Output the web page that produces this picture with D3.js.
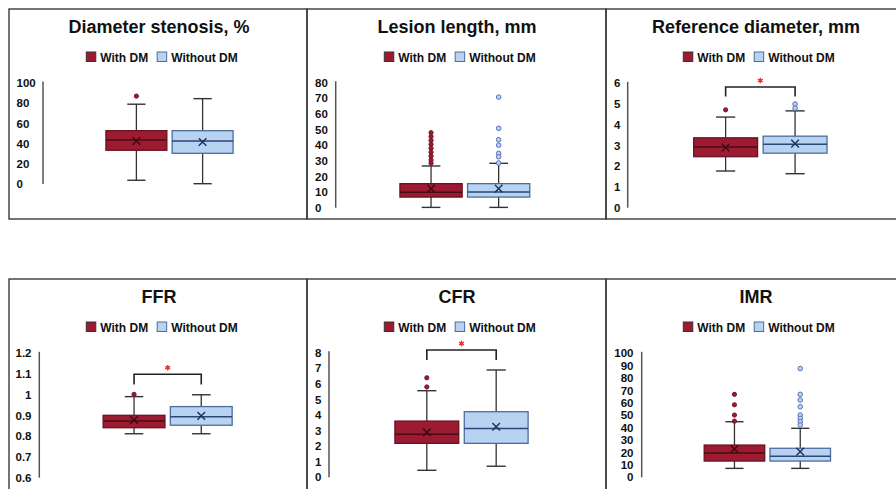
<!DOCTYPE html>
<html>
<head>
<meta charset="utf-8">
<script src="https://cdn.jsdelivr.net/npm/d3@7"></script>
<style>
  body { margin: 0; background: #fff; }
  svg { display: block; font-family: Arial, "Liberation Sans", sans-serif; }
</style>
</head>
<body>
<script>
// chart values
var titles = ["Diameter stenosis, %", "Lesion length, mm", "Reference diameter, mm", "FFR", "CFR", "IMR"];
var groups = ["With DM", "Without DM"];
var yDomains = [[0, 100], [0, 80], [0, 6], [0.6, 1.2], [0, 8], [0, 100]];
var yTicks = [
  [0, 20, 40, 60, 80, 100],
  [0, 10, 20, 30, 40, 50, 60, 70, 80],
  [0, 1, 2, 3, 4, 5, 6],
  [0.6, 0.7, 0.8, 0.9, 1, 1.1, 1.2],
  [0, 1, 2, 3, 4, 5, 6, 7, 8],
  [0, 10, 20, 30, 40, 50, 60, 70, 80, 90, 100]
];

// With DM
var withMin  = [3.7, 0.2, 1.77, 0.812, 0.45, 7.2];
var withQ1   = [33.4, 6.8, 2.46, 0.841, 2.18, 13.1];
var withMed  = [43.6, 9.9, 2.93, 0.873, 2.76, 19.6];
var withQ3   = [52.8, 15.4, 3.37, 0.901, 3.61, 26];
var withMax  = [79, 26.7, 4.37, 0.991, 5.56, 44.8];
var withMean = [42.6, 12.2, 2.9, 0.878, 2.89, 22.8];
var withOut  = [[87], [48, 45.5, 43, 40.5, 38, 35.5, 33, 30.5, 28.5], [4.72], [1.002], [6.39, 5.8], [66.9, 58.5, 50.2, 45.3]];

// Without DM
var woMin  = [0.3, 0.2, 1.64, 0.812, 0.71, 7.2];
var woQ1   = [30.4, 6.8, 2.63, 0.853, 2.18, 13.1];
var woMed  = [42.6, 10, 3.06, 0.894, 3.14, 16.9];
var woQ3   = [52.8, 15.4, 3.45, 0.943, 4.21, 23.4];
var woMax  = [84.5, 28.4, 4.67, 1.0, 6.89, 39.5];
var woMean = [41.6, 12.2, 3.09, 0.898, 3.25, 20.7];
var woOut  = [[], [70.8, 50.8, 43.5, 40, 34.8, 32.6, 28.6], [5.0, 4.8], [], [], [87.7, 66.9, 62.3, 56.9, 50.2, 47.5, 44.8, 42.2]];

// significance brackets (data units), null = none
var sigTop = [null, null, 5.82, 1.099, 8.17, null];
var sigLeg = [null, null, 5.36, 1.05, 7.53, null];

var W = 896, H = 489;
var colX = [9, 307, 606], rowY = [9, 279];
var panelW = [298, 299, 300], panelH = [210, 215];
// per-panel plot geometry (relative to panel corner)
var layout = [
  { axisX: 34, top: 74, bottom: 175, labelX: 7.5, anchor: "start" },
  { axisX: 28.7, top: 73.7, bottom: 198.7, labelX: 8, anchor: "start" },
  { axisX: 21.7, top: 74.3, bottom: 198.7, labelX: 8, anchor: "start" },
  { axisX: 30.3, top: 74.3, bottom: 198.7, labelX: 22.5, anchor: "end" },
  { axisX: 22, top: 73.7, bottom: 198.3, labelX: 8, anchor: "start" },
  { axisX: 35.7, top: 74.3, bottom: 198.3, labelX: 27.5, anchor: "end" }
];
var plotRight = 287;

var style = [
  { fill: "#9c1b31", stroke: "#6a1222", med: "#4a0b16", mean: "#3a0a12", oFill: "#9c1b31", oStroke: "#741426", oR: 2.1 },
  { fill: "#b7d3f1", stroke: "#4d6c9e", med: "#2c4675", mean: "#1d2f5e", oFill: "#b7d3f1", oStroke: "#5b70b4", oR: 2.3 }
];

var svg = d3.select("body").append("svg").attr("width", W).attr("height", H);

titles.forEach(function(title, i) {
  var col = i % 3, row = Math.floor(i / 3);
  var L = layout[i];
  var g = svg.append("g").attr("transform", "translate(" + colX[col] + "," + rowY[row] + ")");

  g.append("rect")
    .attr("x", 0).attr("y", 0)
    .attr("width", panelW[col]).attr("height", panelH[row])
    .attr("fill", "none").attr("stroke", "#3a3a3a").attr("stroke-width", 1.4);

  g.append("text")
    .attr("x", 150).attr("y", 24)
    .attr("text-anchor", "middle")
    .attr("font-size", "18px").attr("font-weight", "bold").attr("fill", "#111")
    .text(title);

  // legend
  var leg = g.append("g");
  var lx = 0;
  groups.forEach(function(name, k) {
    leg.append("rect")
      .attr("x", lx).attr("y", 43).attr("width", 9.5).attr("height", 9.5)
      .attr("fill", style[k].fill).attr("stroke", k ? "#4d6c9e" : "#333").attr("stroke-width", 1);
    var t = leg.append("text")
      .attr("x", lx + 14).attr("y", 52.5)
      .attr("font-size", "12px").attr("font-weight", "bold").attr("fill", "#111")
      .text(name);
    lx += 14 + t.node().getComputedTextLength() + 9;
  });
  var legW = lx - 9;
  leg.attr("transform", "translate(" + (153 - legW / 2) + ",0)");

  // scales
  var y = d3.scaleLinear().domain(yDomains[i]).range([L.bottom, L.top]);
  var x = d3.scaleBand().domain(groups).range([L.axisX, plotRight])
    .paddingInner(0.08).paddingOuter(0.95);

  // y axis: plain line with bold labels
  g.append("line")
    .attr("x1", L.axisX).attr("x2", L.axisX)
    .attr("y1", L.top - 1.5).attr("y2", L.bottom)
    .attr("stroke", "#555").attr("stroke-width", 1.5);

  g.selectAll(".tick-label")
    .data(yTicks[i])
    .enter().append("text")
    .attr("class", "tick-label")
    .attr("x", L.labelX)
    .attr("y", function(d) { return y(d); })
    .attr("dy", "0.36em")
    .attr("text-anchor", L.anchor)
    .attr("font-size", "11.5px").attr("font-weight", "bold").attr("fill", "#111")
    .text(function(d) { return String(d); });

  var stats = [
    { min: withMin[i], q1: withQ1[i], med: withMed[i], q3: withQ3[i], max: withMax[i], mean: withMean[i], out: withOut[i] },
    { min: woMin[i], q1: woQ1[i], med: woMed[i], q3: woQ3[i], max: woMax[i], mean: woMean[i], out: woOut[i] }
  ];

  stats.forEach(function(s, k) {
    var bx = x(groups[k]), bw = x.bandwidth(), cx = bx + bw / 2;
    var st = style[k];
    var capW = bw * 0.3;
    var bg = g.append("g");

    // whiskers
    bg.append("line").attr("x1", cx).attr("x2", cx).attr("y1", y(s.max)).attr("y2", y(s.q3))
      .attr("stroke", "#333").attr("stroke-width", 1.3);
    bg.append("line").attr("x1", cx).attr("x2", cx).attr("y1", y(s.q1)).attr("y2", y(s.min))
      .attr("stroke", "#333").attr("stroke-width", 1.3);
    [s.max, s.min].forEach(function(v) {
      bg.append("line").attr("x1", cx - capW / 2).attr("x2", cx + capW / 2)
        .attr("y1", y(v)).attr("y2", y(v))
        .attr("stroke", "#333").attr("stroke-width", 1.4);
    });

    // box
    bg.append("rect")
      .attr("x", bx).attr("y", y(s.q3))
      .attr("width", bw).attr("height", y(s.q1) - y(s.q3))
      .attr("fill", st.fill).attr("stroke", st.stroke).attr("stroke-width", 1.3);
    bg.append("line").attr("x1", bx).attr("x2", bx + bw)
      .attr("y1", y(s.med)).attr("y2", y(s.med))
      .attr("stroke", st.med).attr("stroke-width", 1.5);

    // mean marker
    var my = y(s.mean), m = 3.8;
    bg.append("path")
      .attr("d", "M" + (cx - m) + "," + (my - m) + "L" + (cx + m) + "," + (my + m) +
                 "M" + (cx - m) + "," + (my + m) + "L" + (cx + m) + "," + (my - m))
      .attr("stroke", st.mean).attr("stroke-width", 1.4).attr("fill", "none");

    // outliers
    bg.selectAll("circle")
      .data(s.out)
      .enter().append("circle")
      .attr("cx", cx).attr("cy", function(d) { return y(d); })
      .attr("r", st.oR)
      .attr("fill", st.oFill).attr("stroke", st.oStroke).attr("stroke-width", 1);
  });

  // significance bracket
  if (sigTop[i] != null) {
    var c1 = x(groups[0]) + x.bandwidth() / 2, c2 = x(groups[1]) + x.bandwidth() / 2;
    var yt = y(sigTop[i]), yl = y(sigLeg[i]);
    g.append("path")
      .attr("d", "M" + c1 + "," + yl + "L" + c1 + "," + yt + "L" + c2 + "," + yt + "L" + c2 + "," + yl)
      .attr("fill", "none").attr("stroke", "#222").attr("stroke-width", 1.6);
    var sx = (c1 + c2) / 2, sy = yt - 6.5;
    g.append("path")
      .attr("transform", "translate(" + sx + "," + sy + ")")
      .attr("d", d3.symbol().type(d3.symbolAsterisk).size(22)())
      .attr("fill", "none").attr("stroke", "#f23030").attr("stroke-width", 1.3);
    g.append("circle").attr("cx", sx).attr("cy", sy).attr("r", 1.6).attr("fill", "#f23030");
  }
});
</script>
</body>
</html>
